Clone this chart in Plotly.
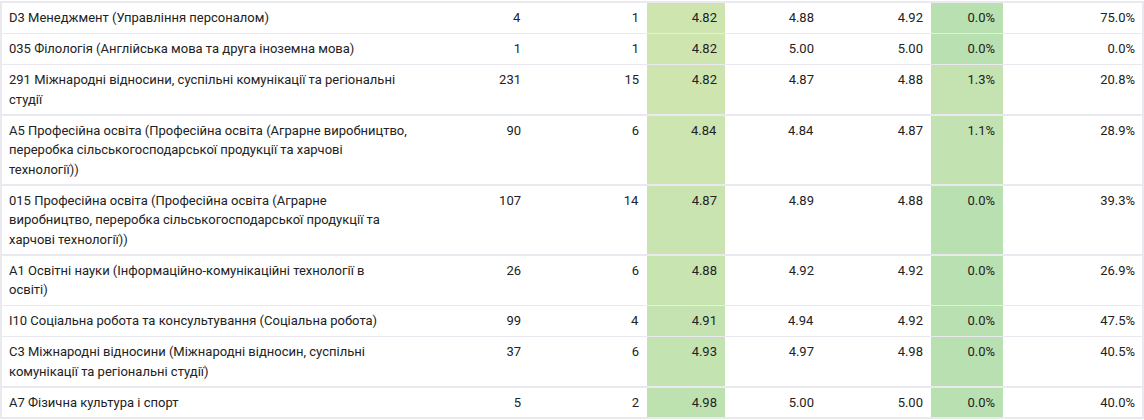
import plotly.graph_objects as go
from plotly.colors import sample_colorscale

# Table data
programs = [
    "D3 Менеджмент (Управління персоналом)",
    "035 Філологія (Англійська мова та друга іноземна мова)",
    "291 Міжнародні відносини, суспільні комунікації та регіональні<br>студії",
    "A5 Професійна освіта (Професійна освіта (Аграрне виробництво,<br>переробка сільськогосподарської продукції та харчові<br>технології))",
    "015 Професійна освіта (Професійна освіта (Аграрне<br>виробництво, переробка сільськогосподарської продукції та<br>харчові технології))",
    "A1 Освітні науки (Інформаційно-комунікаційні технології в<br>освіті)",
    "I10 Соціальна робота та консультування (Соціальна робота)",
    "C3 Міжнародні відносини (Міжнародні відносин, суспільні<br>комунікації та регіональні студії)",
    "A7 Фізична культура і спорт",
]
students = [4, 1, 231, 90, 107, 26, 99, 37, 5]
respondents = [1, 1, 15, 6, 14, 6, 4, 6, 2]
avg_score = [4.82, 4.82, 4.82, 4.84, 4.87, 4.88, 4.91, 4.93, 4.98]
score_b = [4.88, 5.00, 4.87, 4.84, 4.89, 4.92, 4.94, 4.97, 5.00]
score_c = [4.92, 5.00, 4.88, 4.87, 4.88, 4.92, 4.92, 4.98, 5.00]
low_share = [0.0, 0.0, 1.3, 1.1, 0.0, 0.0, 0.0, 0.0, 0.0]
response_rate = [75.0, 0.0, 20.8, 28.9, 39.3, 26.9, 47.5, 40.5, 40.0]


def shade(values, lo_color, hi_color):
    """Conditional formatting: map each value onto a two-colour scale."""
    vmin, vmax = min(values), max(values)
    span = (vmax - vmin) or 1
    return sample_colorscale([[0, lo_color], [1, hi_color]],
                             [(v - vmin) / span for v in values])


FONT = "Roboto"
GLYPH = 13      # visible text size
LINE = 15       # base size: plotly spaces lines at 1.3em -> 19.5px like the source
GRID = "#e9e9ef"
DOMAIN = dict(x=[1 / 1144, 1143 / 1144], y=[0, 0.997])
OPEN = f'<span style="font-size:{GLYPH}px">'
CLOSE = "</span>"


def small(text):
    # shrink glyphs line by line while keeping the wider line pitch;
    # a trailing <br> on one-line texts stops plotly's own word wrapping
    lines = text.split("<br>")
    out = "<br>".join(OPEN + line + CLOSE for line in lines)
    return out + "<br>" if len(lines) == 1 else out


def column(values, fmt, suffix=""):
    return [small(format(v, fmt) + suffix) for v in values]


white = ["white"] * len(programs)
fills = [
    white, white, white,
    shade(avg_score, "#cfe5b0", "#bde2b0"),
    white, white,
    shade(low_share, "#b9e0b0", "#c4e3b1"),
    white,
]

col_widths = [409, 119, 118, 78, 97, 109, 72, 140]

# blank lines matching each row's line count, for the grid overlay
spacer = [small("<br>".join(["\u00a0"] * (p.count("<br>") + 1))) for p in programs]

fig = go.Figure()

# content table (no inner grid lines)
fig.add_trace(go.Table(
    domain=DOMAIN,
    columnwidth=col_widths,
    header=dict(values=[""] * 8, height=1, line=dict(width=0),
                fill=dict(color="white")),
    cells=dict(
        values=[
            [small(p) for p in programs],
            column(students, "d"),
            column(respondents, "d"),
            column(avg_score, ".2f"),
            column(score_b, ".2f"),
            column(score_c, ".2f"),
            column(low_share, ".1f", "%"),
            column(response_rate, ".1f", "%"),
        ],
        align=["left"] + ["right"] * 7,
        fill=dict(color=fills),
        line=dict(width=0),
        font=dict(family=FONT, size=LINE, color="#222222"),
        height=31,
    ),
))

# row separators and outer border, drawn on top as one full-width column
fig.add_trace(go.Table(
    domain=DOMAIN,
    header=dict(values=[""], height=1, line=dict(color=GRID, width=1.5),
                fill=dict(color="rgba(0,0,0,0)")),
    cells=dict(
        values=[spacer],
        fill=dict(color="rgba(0,0,0,0)"),
        line=dict(color=GRID, width=1.5),
        font=dict(family=FONT, size=LINE, color="rgba(0,0,0,0)"),
        height=31,
    ),
))

fig.update_layout(
    width=1144,
    height=420,
    margin=dict(l=0, r=0, t=0, b=0),
    paper_bgcolor="white",
)

# drop the browser's default 8px body margin so the table sits at the page edge
fig.write_html("out.html", config={"displayModeBar": False},
               post_script="document.body.style.margin='0';")
